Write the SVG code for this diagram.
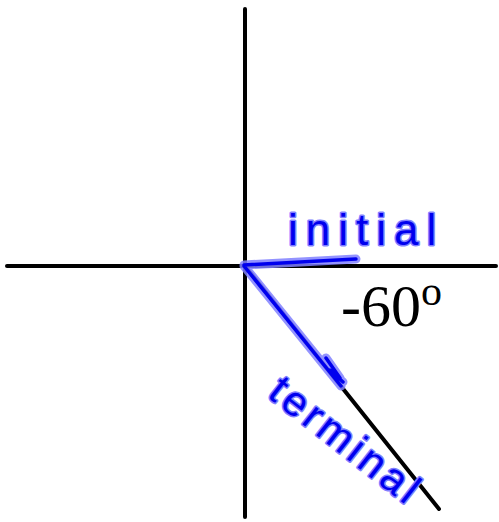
<svg xmlns="http://www.w3.org/2000/svg" width="499" height="522" viewBox="0 0 499 522">
<style>
.ax{stroke:#000;stroke-width:4;fill:none;stroke-linecap:round}
.ink{fill:none;stroke-linecap:round;stroke-linejoin:round}
.halo{stroke:#8080ff;stroke-width:9;opacity:0.85}
.core{stroke:#0000ee;stroke-width:3.5}
.hw{font-family:"Liberation Sans",sans-serif;fill:#0000ee;stroke:#8080ff;stroke-width:3;paint-order:stroke;stroke-linejoin:round}
.lbl{font-family:"Liberation Serif",serif;fill:#000}
</style>
<rect width="499" height="522" fill="#fff"/>
<g id="axes">
<line class="ax" x1="245" y1="9" x2="245" y2="517"/>
<line class="ax" x1="7" y1="266" x2="496" y2="266"/>
<line class="ax" x1="245" y1="266" x2="439" y2="509"/>
</g>
<g id="connectors">
<path class="ink halo" d="M244 265 Q300 262 356 259 M244 266 L341 386 M330 370 L343 382 M326 358 L340 378"/>
<path class="ink core" d="M244 265 Q300 262 356 259 M244 266 L341 386 M330 370 L343 382 M326 358 L340 378"/>
</g>
<g id="initial">
<text class="hw" x="288" y="245" font-size="44" letter-spacing="8">initial</text>
</g>
<g id="terminal">
<text class="hw" x="266" y="396" font-size="42" letter-spacing="4" transform="rotate(38 266 396)">terminal</text>
</g>
<g id="angle">
<text class="lbl" x="341" y="326" font-size="60">-60<tspan font-size="42" dy="-21">o</tspan></text>
</g>
</svg>
